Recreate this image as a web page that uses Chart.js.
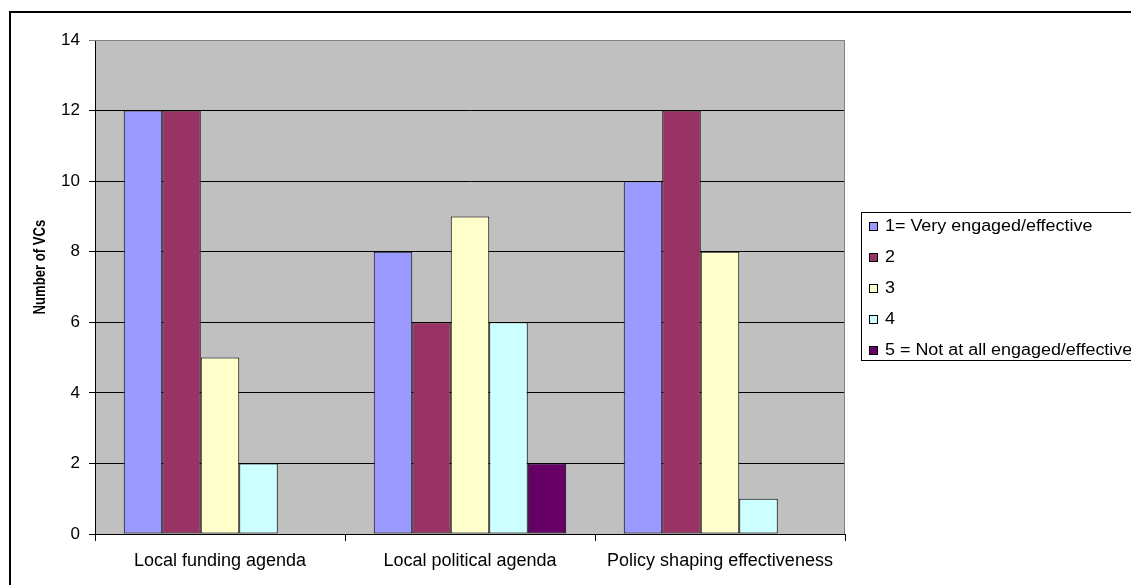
<!DOCTYPE html>
<html>
<head>
<meta charset="utf-8">
<script src="https://cdn.jsdelivr.net/npm/chart.js@4/dist/chart.umd.min.js"></script>
<style>
  html, body { margin: 0; padding: 0; background: #fff; }
  #wrap { width: 1131px; height: 585px; }
</style>
</head>
<body>
<div id="wrap"><canvas id="grafico" width="1131" height="585"></canvas></div>
<script>
// datos
const categorias = ["Local funding agenda", "Local political agenda", "Policy shaping effectiveness"]
const etiquetas = ["1= Very engaged/effective", "2", "3", "4", "5 = Not at all engaged/effective"]
const serie1 = [12, 8, 10]
const serie2 = [12, 6, 12]
const serie3 = [5, 9, 8]
const serie4 = [2, 6, 1]
const serie5 = [0, 2, 0]
const colores = ["#9999FF", "#993366", "#FFFFCC", "#CCFFFF", "#660066"]
const tituloY = "Number of VCs"

const fuente = "'Liberation Sans', Arial, sans-serif"

// fondo gris del area, marco exterior, titulo del eje y leyenda a mano
const marco = {
  id: "marco",
  beforeDraw(chart) {
    const { ctx, chartArea: a } = chart
    ctx.save()
    ctx.fillStyle = "#C0C0C0"
    ctx.fillRect(a.left, a.top, a.right - a.left, a.bottom - a.top)
    ctx.strokeStyle = "#000"
    ctx.lineWidth = 2
    ctx.beginPath()
    ctx.moveTo(10, 590)
    ctx.lineTo(10, 12)
    ctx.lineTo(1140, 12)
    ctx.stroke()
    ctx.restore()
  },
  afterDraw(chart) {
    const { ctx, chartArea: a } = chart
    ctx.save()
    ctx.strokeStyle = "#808080"
    ctx.lineWidth = 1
    ctx.beginPath()
    ctx.moveTo(a.left, a.top + 0.5)
    ctx.lineTo(a.right - 0.5, a.top + 0.5)
    ctx.lineTo(a.right - 0.5, a.bottom)
    ctx.stroke()

    // titulo del eje y
    ctx.save()
    ctx.translate(41, 267)
    ctx.rotate(-Math.PI / 2)
    ctx.scale(0.82, 1)
    ctx.font = "bold 16px " + fuente
    ctx.fillStyle = "#000"
    ctx.textAlign = "center"
    ctx.textBaseline = "middle"
    ctx.fillText(tituloY, 0, 0)
    ctx.restore()

    // leyenda
    ctx.strokeStyle = "#000"
    ctx.strokeRect(861.5, 212.5, 300, 148)
    ctx.textBaseline = "middle"
    chart.data.datasets.forEach((ds, i) => {
      const y = 226 + i * 31
      ctx.fillStyle = ds.backgroundColor
      ctx.fillRect(869, y - 4, 8, 8)
      ctx.strokeRect(869.5, y - 3.5, 8, 8)
      ctx.save()
      ctx.translate(885, y + 1)
      ctx.scale(1.12, 1)
      ctx.font = "16px " + fuente
      ctx.fillStyle = "#000"
      ctx.fillText(ds.label, 0, 0)
      ctx.restore()
    })
    ctx.restore()
  }
}

const barras = document.getElementById("grafico")

new Chart(barras, {
  type: "bar",
  data: {
    labels: categorias,
    datasets: [serie1, serie2, serie3, serie4, serie5].map((valores, i) => ({
      label: etiquetas[i],
      data: valores,
      backgroundColor: colores[i],
      borderColor: "#000",
      borderWidth: 1,
      borderSkipped: false,
    })),
  },
  options: {
    responsive: false,
    animation: false,
    layout: { padding: { top: 40, right: 286, left: 0, bottom: 0 } },
    datasets: { bar: { categoryPercentage: 0.77, barPercentage: 1 } },
    plugins: { legend: { display: false }, tooltip: { enabled: false } },
    scales: {
      x: {
        afterFit: (s) => { s.height = 51 },
        grid: { drawOnChartArea: false, color: "#000", tickLength: 7, offset: true },
        border: { color: "#000" },
        ticks: { color: "#000", padding: 9, font: { family: fuente, size: 18 } },
      },
      y: {
        min: 0,
        max: 14,
        afterFit: (s) => { s.width = 95 },
        ticks: { stepSize: 2, color: "#000", padding: 9, font: { family: fuente, size: 17 } },
        grid: {
          color: (c) => (c.tick && c.tick.value === 14 ? "#808080" : "#000"),
          tickLength: 6,
        },
        border: { color: "#000" },
      },
    },
  },
  plugins: [marco],
})
</script>
</body>
</html>
